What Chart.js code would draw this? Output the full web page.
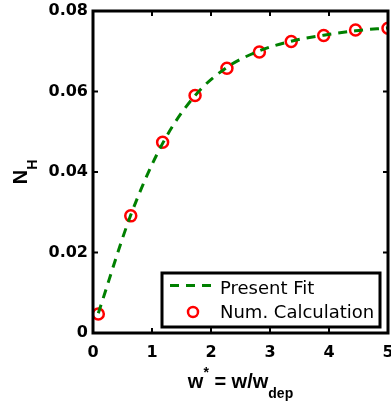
<!DOCTYPE html>
<html>
<head>
<meta charset="utf-8">
<script src="https://cdn.jsdelivr.net/npm/chart.js@4.4.0/dist/chart.umd.min.js"></script>
<style>
  html, body { margin: 0; padding: 0; background: #fff; }
</style>
</head>
<body>
<canvas id="graph1" width="391" height="406"></canvas>
<script>
// values
const wStar = [0.09, 0.64, 1.18, 1.73, 2.27, 2.82, 3.36, 3.91, 4.45, 5.0];
const numCalc = [0.0047, 0.0291, 0.0474, 0.0590, 0.0658, 0.0698, 0.0724, 0.0739, 0.0753, 0.0757];
const presentFit = [0.0049, 0.0293, 0.0471, 0.0590, 0.0660, 0.0701, 0.0725, 0.0740, 0.0751, 0.0758];
const xTicks = ['0', '1', '2', '3', '4', '5'];
const yTicks = ['0', '0.02', '0.04', '0.06', '0.08'];

const FONT = '"DejaVu Sans", sans-serif';
const TFONT = '"Liberation Sans", Arial, sans-serif';
const green = 'rgb(0, 128, 0)';
const red = 'rgb(255, 0, 0)';

function pairs(xs, ys) {
  return xs.map((x, i) => ({ x: x, y: ys[i] }));
}

// box, inward ticks, titles and legend (MATLAB look)
const matlabAxes = {
  id: 'matlabAxes',
  afterDraw(chart) {
    const c = chart.ctx;
    const a = chart.chartArea;
    const sx = chart.scales.x, sy = chart.scales.y;
    c.save();
    c.strokeStyle = '#000';
    c.lineWidth = 3;
    c.strokeRect(a.left, a.top, a.right - a.left, a.bottom - a.top);

    c.lineWidth = 2;
    c.beginPath();
    sx.ticks.forEach(t => {
      const px = sx.getPixelForValue(t.value);
      c.moveTo(px, a.bottom); c.lineTo(px, a.bottom - 5);
      c.moveTo(px, a.top); c.lineTo(px, a.top + 5);
    });
    sy.ticks.forEach(t => {
      const py = sy.getPixelForValue(t.value);
      c.moveTo(a.left, py); c.lineTo(a.left + 5, py);
      c.moveTo(a.right, py); c.lineTo(a.right - 5, py);
    });
    c.stroke();

    // x title: w* = w/w_dep
    c.fillStyle = '#000';
    c.textBaseline = 'alphabetic';
    c.textAlign = 'left';
    const big = 'bold 20px ' + TFONT, small = 'bold 14px ' + TFONT;
    c.font = big; const w1 = c.measureText('w').width;
    c.font = small; const w2 = c.measureText('*').width;
    c.font = big; const w3 = c.measureText(' = w/w').width;
    c.font = small; const w4 = c.measureText('dep').width;
    let x0 = (a.left + a.right) / 2 - (w1 + w2 + w3 + w4) / 2;
    const base = 388;
    c.font = big; c.fillText('w', x0, base); x0 += w1;
    c.font = small; c.fillText('*', x0, base - 11); x0 += w2;
    c.font = big; c.fillText(' = w/w', x0, base); x0 += w3;
    c.font = small; c.fillText('dep', x0, base + 10);

    // y title: N_H
    c.save();
    c.translate(27, (a.top + a.bottom) / 2);
    c.rotate(-Math.PI / 2);
    c.font = big; const n1 = c.measureText('N').width;
    c.font = 'bold 14px ' + TFONT; const n2 = c.measureText('H').width;
    let y0 = -(n1 + n2) / 2;
    c.font = big; c.fillText('N', y0, 0);
    c.font = 'bold 14px ' + TFONT; c.fillText('H', y0 + n1, 10);
    c.restore();

    // legend
    c.fillStyle = '#fff';
    c.fillRect(162, 273, 218, 54);
    c.strokeStyle = '#000';
    c.lineWidth = 3;
    c.strokeRect(162, 273, 218, 54);
    c.strokeStyle = green;
    c.lineWidth = 3;
    c.setLineDash([9, 7]);
    c.beginPath();
    c.moveTo(170, 285.5); c.lineTo(216, 285.5);
    c.stroke();
    c.setLineDash([]);
    c.strokeStyle = red;
    c.lineWidth = 2.5;
    c.beginPath();
    c.arc(193, 312, 5, 0, Math.PI * 2);
    c.stroke();
    c.fillStyle = '#000';
    c.font = '18px ' + FONT;
    c.fillText('Present Fit', 220, 294);
    c.fillText('Num. Calculation', 220, 318);
    c.restore();
  }
};

new Chart(document.getElementById('graph1').getContext('2d'), {
  type: 'scatter',
  data: {
    datasets: [{
      label: 'Present Fit',
      data: pairs(wStar, presentFit),
      showLine: true,
      borderColor: green,
      borderWidth: 3,
      borderDash: [9, 7],
      cubicInterpolationMode: 'monotone',
      pointRadius: 0,
      fill: false
    }, {
      label: 'Num. Calculation',
      data: pairs(wStar, numCalc),
      showLine: false,
      pointStyle: 'circle',
      pointRadius: 5.5,
      pointBorderWidth: 2.5,
      pointBorderColor: red,
      pointBackgroundColor: 'rgba(0,0,0,0)'
    }]
  },
  options: {
    responsive: false,
    animation: false,
    layout: { autoPadding: false, padding: { top: 11, right: 3, left: 0, bottom: 0 } },
    plugins: { legend: { display: false }, tooltip: { enabled: false } },
    scales: {
      x: {
        type: 'linear',
        min: 0, max: 5,
        grid: { display: false, drawTicks: false },
        border: { display: false },
        ticks: {
          stepSize: 1,
          padding: 10,
          color: '#000',
          font: { family: FONT, size: 16, weight: 'bold' },
          callback: (v, i) => xTicks[i]
        },
        afterFit(scale) {
          scale.height = 73;
          scale.paddingLeft = 0;
          scale.paddingRight = 0;
        }
      },
      y: {
        min: 0, max: 0.08,
        grid: { display: false, drawTicks: false },
        border: { display: false },
        ticks: {
          stepSize: 0.02,
          padding: 5,
          color: '#000',
          font: { family: FONT, size: 16, weight: 'bold' },
          callback: (v, i) => yTicks[i]
        },
        afterFit(scale) {
          scale.width = 93;
          scale.paddingTop = 0;
          scale.paddingBottom = 0;
        }
      }
    }
  },
  plugins: [matlabAxes]
});
</script>
</body>
</html>
